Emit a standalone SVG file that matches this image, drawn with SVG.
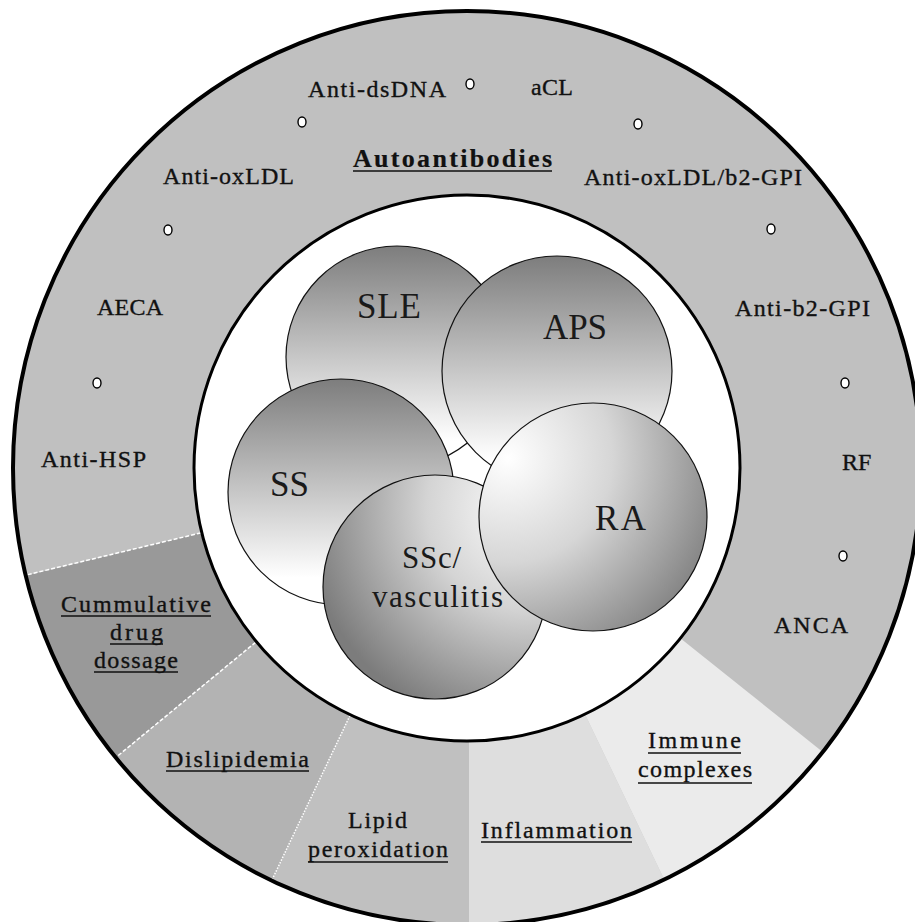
<svg xmlns="http://www.w3.org/2000/svg" width="915" height="922" viewBox="0 0 915 922">
<defs>
<style>
.lbl{font-family:"Liberation Serif","Times New Roman",serif;font-size:24px;fill:#111;stroke:#111;stroke-width:0.35}
.b{font-weight:bold;font-size:26px;stroke-width:0.2}
.ul{stroke:#111;stroke-width:1.6}
.dz{font-family:"Liberation Serif","Times New Roman",serif;font-size:35px;fill:#1a1a1a}
.dz2{font-family:"Liberation Serif","Times New Roman",serif;font-size:31px;fill:#1a1a1a}
.dot{fill:#fff;stroke:#000;stroke-width:1.4}
.dc{stroke:#111;stroke-width:1.2}
.div{stroke:#fff;stroke-width:1.5;fill:none}
</style>
<clipPath id="ringclip"><ellipse cx="467" cy="468" rx="454" ry="457"/></clipPath>
<linearGradient id="gv" x1="0" y1="0" x2="0" y2="1">
<stop offset="0" stop-color="#7d7d7d"/><stop offset="0.88" stop-color="#ffffff"/>
</linearGradient>
<radialGradient id="gra" gradientUnits="userSpaceOnUse" cx="508" cy="458" r="232">
<stop offset="0" stop-color="#ffffff"/><stop offset="0.45" stop-color="#d6d6d6"/><stop offset="1" stop-color="#7c7c7c"/>
</radialGradient>
<radialGradient id="gssc" gradientUnits="userSpaceOnUse" cx="528" cy="508" r="225">
<stop offset="0" stop-color="#ffffff"/><stop offset="0.45" stop-color="#d4d4d4"/><stop offset="1" stop-color="#7c7c7c"/>
</radialGradient>
</defs>
<rect width="915" height="922" fill="#fff"/>

<g id="ring-autoantibodies">
<ellipse cx="467" cy="468" rx="454" ry="457" fill="#c0c0c0"/>
<text class="lbl b" x="353" y="167" textLength="199" lengthAdjust="spacing">Autoantibodies</text>
<line class="ul" x1="353" y1="171" x2="552" y2="171"/>
<text class="lbl" x="308" y="97" textLength="138" lengthAdjust="spacing">Anti-dsDNA</text>
<text class="lbl" x="531" y="95" textLength="42" lengthAdjust="spacing">aCL</text>
<text class="lbl" x="163" y="184" textLength="131" lengthAdjust="spacing">Anti-oxLDL</text>
<text class="lbl" x="584" y="185" textLength="218" lengthAdjust="spacing">Anti-oxLDL/b2-GPI</text>
<text class="lbl" x="97" y="315" textLength="66" lengthAdjust="spacing">AECA</text>
<text class="lbl" x="735" y="316" textLength="135" lengthAdjust="spacing">Anti-b2-GPI</text>
<text class="lbl" x="41" y="467" textLength="105" lengthAdjust="spacing">Anti-HSP</text>
<text class="lbl" x="842" y="470">RF</text>
<text class="lbl" x="774" y="633" textLength="74" lengthAdjust="spacing">ANCA</text>
<ellipse class="dot" cx="470" cy="84" rx="4" ry="5"/>
<ellipse class="dot" cx="302" cy="122" rx="4" ry="5"/>
<ellipse class="dot" cx="638" cy="124" rx="4" ry="5"/>
<ellipse class="dot" cx="168" cy="230" rx="4" ry="5"/>
<ellipse class="dot" cx="771" cy="229" rx="4" ry="5"/>
<ellipse class="dot" cx="97" cy="383" rx="4" ry="5"/>
<ellipse class="dot" cx="845" cy="383" rx="4" ry="5"/>
<ellipse class="dot" cx="843" cy="556" rx="4" ry="5"/>
</g>

<g id="sector-cumulative">
<polygon clip-path="url(#ringclip)" fill="#999999" points="467,468 -213.1,633.8 -73.1,913.3"/>
<text class="lbl" x="61" y="612" textLength="150" lengthAdjust="spacing">Cummulative</text>
<line class="ul" x1="61" y1="616" x2="211" y2="616"/>
<text class="lbl" x="110" y="640" textLength="53" lengthAdjust="spacing">drug</text>
<line class="ul" x1="110" y1="644" x2="163" y2="644"/>
<text class="lbl" x="94" y="668" textLength="84" lengthAdjust="spacing">dossage</text>
<line class="ul" x1="94" y1="672" x2="178" y2="672"/>
</g>
<g id="sector-dislipidemia">
<polygon clip-path="url(#ringclip)" fill="#b3b3b3" points="467,468 -73.1,913.3 167.8,1100.9"/>
<text class="lbl" x="166" y="767" textLength="143" lengthAdjust="spacing">Dislipidemia</text>
<line class="ul" x1="166" y1="771" x2="309" y2="771"/>
</g>
<g id="sector-lipid">
<polygon clip-path="url(#ringclip)" fill="#c0c0c0" points="467,468 167.8,1100.9 469,1168 469,468"/>
<text class="lbl" x="348" y="828" textLength="59" lengthAdjust="spacing">Lipid</text>
<text class="lbl" x="308" y="857" textLength="140" lengthAdjust="spacing">peroxidation</text>
<line class="ul" x1="308" y1="862" x2="448" y2="862"/>
</g>
<g id="sector-inflammation">
<polygon clip-path="url(#ringclip)" fill="#dedede" points="469,468 469,1168 769.5,1099.3 467,468"/>
<text class="lbl" x="481" y="838" textLength="151" lengthAdjust="spacing">Inflammation</text>
<line class="ul" x1="481" y1="842" x2="632" y2="842"/>
</g>
<g id="sector-immune">
<polygon clip-path="url(#ringclip)" fill="#ebebeb" points="467,468 769.5,1099.3 1014.1,904.7"/>
<text class="lbl" x="648" y="748" textLength="93" lengthAdjust="spacing">Immune</text>
<line class="ul" x1="648" y1="753" x2="741" y2="753"/>
<text class="lbl" x="638" y="777" textLength="114" lengthAdjust="spacing">complexes</text>
<line class="ul" x1="638" y1="783" x2="752" y2="783"/>
</g>

<g id="connectors">
<line class="div" x1="200.8" y1="532.9" x2="22" y2="576" stroke-dasharray="4 2"/>
<line class="div" x1="255.6" y1="642.3" x2="114" y2="759" stroke-dasharray="4 2"/>
<line class="div" x1="349.9" y1="715.7" x2="271.5" y2="881" stroke-dasharray="1.5 1.5"/>
</g>

<g id="frame">
<ellipse cx="467" cy="468" rx="454" ry="457" fill="none" stroke="#000" stroke-width="4"/>
<circle cx="467" cy="468" r="273" fill="#fff" stroke="#000" stroke-width="3"/>
</g>

<g id="SLE">
<circle class="dc" cx="397" cy="357" r="111" fill="url(#gv)"/>
<text class="dz" x="357" y="318" textLength="64" lengthAdjust="spacing">SLE</text>
</g>
<g id="APS">
<circle class="dc" cx="557" cy="371" r="115" fill="url(#gv)"/>
<text class="dz" x="543" y="339" textLength="64" lengthAdjust="spacing">APS</text>
</g>
<g id="SS">
<circle class="dc" cx="341" cy="492" r="113" fill="url(#gv)"/>
<text class="dz" x="270" y="496" textLength="39" lengthAdjust="spacing">SS</text>
</g>
<g id="SSc">
<circle class="dc" cx="435" cy="587" r="112" fill="url(#gssc)"/>
<text class="dz2" x="402" y="568" textLength="59" lengthAdjust="spacing">SSc/</text>
<text class="dz2" x="372" y="607" textLength="131" lengthAdjust="spacing">vasculitis</text>
</g>
<g id="RA">
<circle class="dc" cx="593" cy="517" r="114" fill="url(#gra)"/>
<text class="dz" x="595" y="530" textLength="51" lengthAdjust="spacing">RA</text>
</g>
</svg>
